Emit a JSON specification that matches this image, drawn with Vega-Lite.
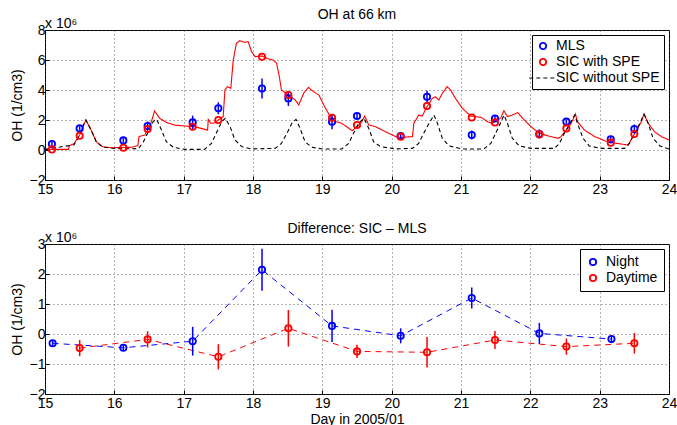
{
  "$schema": "https://vega.github.io/schema/vega-lite/v6.json",
  "padding": {"left": 9, "top": 7, "right": 0, "bottom": 0},
  "spacing": 24,
  "config": {
    "font": "Liberation Sans",
    "view": {"stroke": "#000000", "strokeWidth": 1},
    "axis": {
      "grid": true, "gridDash": [1, 3], "gridColor": "#444444", "gridOpacity": 0.8, "gridWidth": 1,
      "domain": false, "ticks": true, "tickSize": -4, "tickColor": "#000000",
      "labelFontSize": 14, "labelColor": "#000000", "labelFont": "Liberation Sans", "labelPadding": 4,
      "labelOverlap": false, "labelFlush": false,
      "titleFontSize": 14, "titleFontWeight": "normal", "titleColor": "#000000", "titleFont": "Liberation Sans"
    },
    "axisX": {"labelPadding": 6},
    "title": {"fontSize": 14, "fontWeight": "normal", "font": "Liberation Sans", "color": "#000000", "offset": -5},
    "legend": {
      "orient": "top-right", "offset": 5, "fillColor": "#ffffff", "strokeColor": "#000000", "padding": 4,
      "labelFontSize": 14, "labelFont": "Liberation Sans", "labelColor": "#000000", "symbolStrokeWidth": 1.8,
      "symbolSize": 40, "rowPadding": 2, "labelOffset": 6
    }
  },
  "datasets": {
    "sic": [
      {"day": 15.0, "oh": 0.04, "series": "SIC with SPE"},
      {"day": 15.34, "oh": 0.04, "series": "SIC with SPE"},
      {"day": 15.35, "oh": 0.27, "series": "SIC with SPE"},
      {"day": 15.42, "oh": 0.44, "series": "SIC with SPE"},
      {"day": 15.5, "oh": 1.0, "series": "SIC with SPE"},
      {"day": 15.545, "oh": 1.55, "series": "SIC with SPE"},
      {"day": 15.59, "oh": 2.0, "series": "SIC with SPE"},
      {"day": 15.665, "oh": 1.33, "series": "SIC with SPE"},
      {"day": 15.74, "oh": 0.55, "series": "SIC with SPE"},
      {"day": 15.83, "oh": 0.22, "series": "SIC with SPE"},
      {"day": 15.955, "oh": 0.15, "series": "SIC with SPE"},
      {"day": 16.24, "oh": 0.18, "series": "SIC with SPE"},
      {"day": 16.34, "oh": 0.29, "series": "SIC with SPE"},
      {"day": 16.355, "oh": 0.89, "series": "SIC with SPE"},
      {"day": 16.44, "oh": 1.0, "series": "SIC with SPE"},
      {"day": 16.495, "oh": 1.44, "series": "SIC with SPE"},
      {"day": 16.535, "oh": 1.89, "series": "SIC with SPE"},
      {"day": 16.58, "oh": 2.6, "series": "SIC with SPE"},
      {"day": 16.655, "oh": 2.11, "series": "SIC with SPE"},
      {"day": 16.75, "oh": 1.84, "series": "SIC with SPE"},
      {"day": 16.87, "oh": 1.66, "series": "SIC with SPE"},
      {"day": 17.02, "oh": 1.6, "series": "SIC with SPE"},
      {"day": 17.16, "oh": 1.55, "series": "SIC with SPE"},
      {"day": 17.305, "oh": 1.38, "series": "SIC with SPE"},
      {"day": 17.345, "oh": 1.33, "series": "SIC with SPE"},
      {"day": 17.355, "oh": 2.04, "series": "SIC with SPE"},
      {"day": 17.39, "oh": 1.78, "series": "SIC with SPE"},
      {"day": 17.43, "oh": 1.78, "series": "SIC with SPE"},
      {"day": 17.5, "oh": 2.0, "series": "SIC with SPE"},
      {"day": 17.57, "oh": 2.22, "series": "SIC with SPE"},
      {"day": 17.595, "oh": 4.0, "series": "SIC with SPE"},
      {"day": 17.63, "oh": 4.22, "series": "SIC with SPE"},
      {"day": 17.68, "oh": 4.11, "series": "SIC with SPE"},
      {"day": 17.715, "oh": 6.0, "series": "SIC with SPE"},
      {"day": 17.76, "oh": 7.11, "series": "SIC with SPE"},
      {"day": 17.81, "oh": 7.29, "series": "SIC with SPE"},
      {"day": 17.875, "oh": 7.18, "series": "SIC with SPE"},
      {"day": 17.93, "oh": 7.22, "series": "SIC with SPE"},
      {"day": 17.98, "oh": 6.55, "series": "SIC with SPE"},
      {"day": 18.03, "oh": 6.22, "series": "SIC with SPE"},
      {"day": 18.13, "oh": 6.27, "series": "SIC with SPE"},
      {"day": 18.2, "oh": 6.11, "series": "SIC with SPE"},
      {"day": 18.29, "oh": 6.0, "series": "SIC with SPE"},
      {"day": 18.34, "oh": 5.78, "series": "SIC with SPE"},
      {"day": 18.38, "oh": 4.89, "series": "SIC with SPE"},
      {"day": 18.41, "oh": 4.0, "series": "SIC with SPE"},
      {"day": 18.51, "oh": 3.67, "series": "SIC with SPE"},
      {"day": 18.61, "oh": 3.33, "series": "SIC with SPE"},
      {"day": 18.66, "oh": 3.0, "series": "SIC with SPE"},
      {"day": 18.73, "oh": 3.78, "series": "SIC with SPE"},
      {"day": 18.8, "oh": 4.18, "series": "SIC with SPE"},
      {"day": 18.87, "oh": 3.89, "series": "SIC with SPE"},
      {"day": 18.95, "oh": 3.67, "series": "SIC with SPE"},
      {"day": 19.02, "oh": 3.0, "series": "SIC with SPE"},
      {"day": 19.11, "oh": 2.26, "series": "SIC with SPE"},
      {"day": 19.19, "oh": 1.89, "series": "SIC with SPE"},
      {"day": 19.28, "oh": 1.78, "series": "SIC with SPE"},
      {"day": 19.43, "oh": 1.29, "series": "SIC with SPE"},
      {"day": 19.5, "oh": 1.55, "series": "SIC with SPE"},
      {"day": 19.57, "oh": 1.89, "series": "SIC with SPE"},
      {"day": 19.61, "oh": 2.26, "series": "SIC with SPE"},
      {"day": 19.67, "oh": 1.67, "series": "SIC with SPE"},
      {"day": 19.77, "oh": 1.55, "series": "SIC with SPE"},
      {"day": 19.91, "oh": 1.22, "series": "SIC with SPE"},
      {"day": 20.06, "oh": 0.89, "series": "SIC with SPE"},
      {"day": 20.13, "oh": 0.84, "series": "SIC with SPE"},
      {"day": 20.3, "oh": 0.89, "series": "SIC with SPE"},
      {"day": 20.32, "oh": 1.78, "series": "SIC with SPE"},
      {"day": 20.39, "oh": 2.33, "series": "SIC with SPE"},
      {"day": 20.44, "oh": 2.26, "series": "SIC with SPE"},
      {"day": 20.51, "oh": 2.89, "series": "SIC with SPE"},
      {"day": 20.585, "oh": 3.44, "series": "SIC with SPE"},
      {"day": 20.63, "oh": 3.55, "series": "SIC with SPE"},
      {"day": 20.68, "oh": 3.33, "series": "SIC with SPE"},
      {"day": 20.73, "oh": 3.78, "series": "SIC with SPE"},
      {"day": 20.8, "oh": 4.22, "series": "SIC with SPE"},
      {"day": 20.85, "oh": 4.0, "series": "SIC with SPE"},
      {"day": 20.92, "oh": 3.44, "series": "SIC with SPE"},
      {"day": 21.02, "oh": 2.78, "series": "SIC with SPE"},
      {"day": 21.14, "oh": 2.26, "series": "SIC with SPE"},
      {"day": 21.29, "oh": 2.18, "series": "SIC with SPE"},
      {"day": 21.38, "oh": 1.89, "series": "SIC with SPE"},
      {"day": 21.45, "oh": 1.78, "series": "SIC with SPE"},
      {"day": 21.5, "oh": 1.93, "series": "SIC with SPE"},
      {"day": 21.57, "oh": 2.11, "series": "SIC with SPE"},
      {"day": 21.62, "oh": 2.62, "series": "SIC with SPE"},
      {"day": 21.67, "oh": 2.22, "series": "SIC with SPE"},
      {"day": 21.74, "oh": 2.33, "series": "SIC with SPE"},
      {"day": 21.82, "oh": 2.49, "series": "SIC with SPE"},
      {"day": 21.89, "oh": 2.11, "series": "SIC with SPE"},
      {"day": 22.01, "oh": 1.55, "series": "SIC with SPE"},
      {"day": 22.13, "oh": 1.11, "series": "SIC with SPE"},
      {"day": 22.3, "oh": 0.89, "series": "SIC with SPE"},
      {"day": 22.4, "oh": 0.78, "series": "SIC with SPE"},
      {"day": 22.44, "oh": 0.89, "series": "SIC with SPE"},
      {"day": 22.52, "oh": 1.33, "series": "SIC with SPE"},
      {"day": 22.59, "oh": 1.78, "series": "SIC with SPE"},
      {"day": 22.65, "oh": 2.4, "series": "SIC with SPE"},
      {"day": 22.68, "oh": 1.89, "series": "SIC with SPE"},
      {"day": 22.78, "oh": 1.33, "series": "SIC with SPE"},
      {"day": 22.93, "oh": 0.89, "series": "SIC with SPE"},
      {"day": 23.07, "oh": 0.62, "series": "SIC with SPE"},
      {"day": 23.17, "oh": 0.49, "series": "SIC with SPE"},
      {"day": 23.31, "oh": 0.4, "series": "SIC with SPE"},
      {"day": 23.41, "oh": 0.33, "series": "SIC with SPE"},
      {"day": 23.48, "oh": 0.89, "series": "SIC with SPE"},
      {"day": 23.55, "oh": 1.44, "series": "SIC with SPE"},
      {"day": 23.6, "oh": 1.89, "series": "SIC with SPE"},
      {"day": 23.64, "oh": 2.4, "series": "SIC with SPE"},
      {"day": 23.7, "oh": 1.78, "series": "SIC with SPE"},
      {"day": 23.79, "oh": 1.22, "series": "SIC with SPE"},
      {"day": 23.89, "oh": 0.89, "series": "SIC with SPE"},
      {"day": 24.0, "oh": 0.67, "series": "SIC with SPE"},
      {"day": 15.0, "oh": 0.04, "series": "SIC without SPE"},
      {"day": 15.42, "oh": 0.35, "series": "SIC without SPE"},
      {"day": 15.5, "oh": 1.0, "series": "SIC without SPE"},
      {"day": 15.545, "oh": 1.55, "series": "SIC without SPE"},
      {"day": 15.59, "oh": 2.0, "series": "SIC without SPE"},
      {"day": 15.665, "oh": 1.33, "series": "SIC without SPE"},
      {"day": 15.74, "oh": 0.55, "series": "SIC without SPE"},
      {"day": 15.83, "oh": 0.2, "series": "SIC without SPE"},
      {"day": 15.955, "oh": 0.12, "series": "SIC without SPE"},
      {"day": 16.24, "oh": 0.08, "series": "SIC without SPE"},
      {"day": 16.35, "oh": 0.1, "series": "SIC without SPE"},
      {"day": 16.42, "oh": 0.55, "series": "SIC without SPE"},
      {"day": 16.49, "oh": 1.22, "series": "SIC without SPE"},
      {"day": 16.56, "oh": 1.89, "series": "SIC without SPE"},
      {"day": 16.61, "oh": 2.04, "series": "SIC without SPE"},
      {"day": 16.68, "oh": 1.33, "series": "SIC without SPE"},
      {"day": 16.75, "oh": 0.55, "series": "SIC without SPE"},
      {"day": 16.85, "oh": 0.18, "series": "SIC without SPE"},
      {"day": 17.02, "oh": 0.04, "series": "SIC without SPE"},
      {"day": 17.3, "oh": 0.04, "series": "SIC without SPE"},
      {"day": 17.4, "oh": 0.44, "series": "SIC without SPE"},
      {"day": 17.47, "oh": 1.11, "series": "SIC without SPE"},
      {"day": 17.55, "oh": 1.89, "series": "SIC without SPE"},
      {"day": 17.6, "oh": 2.11, "series": "SIC without SPE"},
      {"day": 17.67, "oh": 1.55, "series": "SIC without SPE"},
      {"day": 17.74, "oh": 0.67, "series": "SIC without SPE"},
      {"day": 17.84, "oh": 0.22, "series": "SIC without SPE"},
      {"day": 17.98, "oh": 0.07, "series": "SIC without SPE"},
      {"day": 18.32, "oh": 0.11, "series": "SIC without SPE"},
      {"day": 18.41, "oh": 0.44, "series": "SIC without SPE"},
      {"day": 18.49, "oh": 1.11, "series": "SIC without SPE"},
      {"day": 18.56, "oh": 1.78, "series": "SIC without SPE"},
      {"day": 18.62, "oh": 2.04, "series": "SIC without SPE"},
      {"day": 18.68, "oh": 1.44, "series": "SIC without SPE"},
      {"day": 18.75, "oh": 0.55, "series": "SIC without SPE"},
      {"day": 18.85, "oh": 0.18, "series": "SIC without SPE"},
      {"day": 19.0, "oh": 0.07, "series": "SIC without SPE"},
      {"day": 19.28, "oh": 0.07, "series": "SIC without SPE"},
      {"day": 19.38, "oh": 0.44, "series": "SIC without SPE"},
      {"day": 19.45, "oh": 1.11, "series": "SIC without SPE"},
      {"day": 19.52, "oh": 1.78, "series": "SIC without SPE"},
      {"day": 19.6, "oh": 2.11, "series": "SIC without SPE"},
      {"day": 19.67, "oh": 1.44, "series": "SIC without SPE"},
      {"day": 19.74, "oh": 0.55, "series": "SIC without SPE"},
      {"day": 19.84, "oh": 0.22, "series": "SIC without SPE"},
      {"day": 20.06, "oh": 0.07, "series": "SIC without SPE"},
      {"day": 20.3, "oh": 0.11, "series": "SIC without SPE"},
      {"day": 20.39, "oh": 0.44, "series": "SIC without SPE"},
      {"day": 20.46, "oh": 1.11, "series": "SIC without SPE"},
      {"day": 20.54, "oh": 1.78, "series": "SIC without SPE"},
      {"day": 20.61, "oh": 2.33, "series": "SIC without SPE"},
      {"day": 20.66, "oh": 1.78, "series": "SIC without SPE"},
      {"day": 20.73, "oh": 0.78, "series": "SIC without SPE"},
      {"day": 20.83, "oh": 0.27, "series": "SIC without SPE"},
      {"day": 21.02, "oh": 0.07, "series": "SIC without SPE"},
      {"day": 21.33, "oh": 0.07, "series": "SIC without SPE"},
      {"day": 21.43, "oh": 0.44, "series": "SIC without SPE"},
      {"day": 21.5, "oh": 1.11, "series": "SIC without SPE"},
      {"day": 21.58, "oh": 1.89, "series": "SIC without SPE"},
      {"day": 21.62, "oh": 2.33, "series": "SIC without SPE"},
      {"day": 21.67, "oh": 1.78, "series": "SIC without SPE"},
      {"day": 21.74, "oh": 0.78, "series": "SIC without SPE"},
      {"day": 21.84, "oh": 0.27, "series": "SIC without SPE"},
      {"day": 22.01, "oh": 0.11, "series": "SIC without SPE"},
      {"day": 22.35, "oh": 0.11, "series": "SIC without SPE"},
      {"day": 22.42, "oh": 0.44, "series": "SIC without SPE"},
      {"day": 22.49, "oh": 1.11, "series": "SIC without SPE"},
      {"day": 22.56, "oh": 1.67, "series": "SIC without SPE"},
      {"day": 22.64, "oh": 2.33, "series": "SIC without SPE"},
      {"day": 22.68, "oh": 1.78, "series": "SIC without SPE"},
      {"day": 22.76, "oh": 0.78, "series": "SIC without SPE"},
      {"day": 22.85, "oh": 0.27, "series": "SIC without SPE"},
      {"day": 23.02, "oh": 0.11, "series": "SIC without SPE"},
      {"day": 23.36, "oh": 0.11, "series": "SIC without SPE"},
      {"day": 23.43, "oh": 0.44, "series": "SIC without SPE"},
      {"day": 23.5, "oh": 1.11, "series": "SIC without SPE"},
      {"day": 23.58, "oh": 1.78, "series": "SIC without SPE"},
      {"day": 23.64, "oh": 2.38, "series": "SIC without SPE"},
      {"day": 23.7, "oh": 1.78, "series": "SIC without SPE"},
      {"day": 23.77, "oh": 0.78, "series": "SIC without SPE"},
      {"day": 23.87, "oh": 0.27, "series": "SIC without SPE"},
      {"day": 24.0, "oh": 0.07, "series": "SIC without SPE"}
    ],
    "pts": [
      {"day": 15.1, "oh": 0.4, "err": 0.15, "series": "MLS"},
      {"day": 15.5, "oh": 1.44, "err": 0.15, "series": "MLS"},
      {"day": 16.13, "oh": 0.64, "err": 0.15, "series": "MLS"},
      {"day": 16.48, "oh": 1.6, "err": 0.3, "series": "MLS"},
      {"day": 17.13, "oh": 1.84, "err": 0.45, "series": "MLS"},
      {"day": 17.5, "oh": 2.78, "err": 0.4, "series": "MLS"},
      {"day": 18.13, "oh": 4.1, "err": 0.67, "series": "MLS"},
      {"day": 18.51, "oh": 3.44, "err": 0.5, "series": "MLS"},
      {"day": 19.14, "oh": 1.89, "err": 0.5, "series": "MLS"},
      {"day": 19.5, "oh": 2.27, "err": 0.2, "series": "MLS"},
      {"day": 20.13, "oh": 0.93, "err": 0.25, "series": "MLS"},
      {"day": 20.51, "oh": 3.55, "err": 0.4, "series": "MLS"},
      {"day": 21.155, "oh": 1.0, "err": 0.3, "series": "MLS"},
      {"day": 21.49, "oh": 2.1, "err": 0.2, "series": "MLS"},
      {"day": 22.13, "oh": 1.07, "err": 0.3, "series": "MLS"},
      {"day": 22.52, "oh": 1.89, "err": 0.15, "series": "MLS"},
      {"day": 23.16, "oh": 0.71, "err": 0.15, "series": "MLS"},
      {"day": 23.5, "oh": 1.4, "err": 0.3, "series": "MLS"},
      {"day": 15.1, "oh": 0.04, "err": 0, "series": "SIC with SPE"},
      {"day": 15.5, "oh": 0.95, "err": 0, "series": "SIC with SPE"},
      {"day": 16.13, "oh": 0.15, "err": 0, "series": "SIC with SPE"},
      {"day": 16.48, "oh": 1.4, "err": 0, "series": "SIC with SPE"},
      {"day": 17.13, "oh": 1.55, "err": 0, "series": "SIC with SPE"},
      {"day": 17.5, "oh": 2.0, "err": 0, "series": "SIC with SPE"},
      {"day": 18.13, "oh": 6.22, "err": 0, "series": "SIC with SPE"},
      {"day": 18.51, "oh": 3.67, "err": 0, "series": "SIC with SPE"},
      {"day": 19.14, "oh": 2.15, "err": 0, "series": "SIC with SPE"},
      {"day": 19.5, "oh": 1.67, "err": 0, "series": "SIC with SPE"},
      {"day": 20.13, "oh": 0.89, "err": 0, "series": "SIC with SPE"},
      {"day": 20.51, "oh": 2.93, "err": 0, "series": "SIC with SPE"},
      {"day": 21.155, "oh": 2.17, "err": 0, "series": "SIC with SPE"},
      {"day": 21.49, "oh": 1.84, "err": 0, "series": "SIC with SPE"},
      {"day": 22.13, "oh": 1.04, "err": 0, "series": "SIC with SPE"},
      {"day": 22.52, "oh": 1.44, "err": 0, "series": "SIC with SPE"},
      {"day": 23.16, "oh": 0.49, "err": 0, "series": "SIC with SPE"},
      {"day": 23.5, "oh": 1.07, "err": 0, "series": "SIC with SPE"}
    ],
    "diff": [
      {"day": 15.11, "oh": -0.31, "err": 0.1, "series": "Night"},
      {"day": 16.13, "oh": -0.46, "err": 0.1, "series": "Night"},
      {"day": 17.13, "oh": -0.24, "err": 0.48, "series": "Night"},
      {"day": 18.13, "oh": 2.14, "err": 0.7, "series": "Night"},
      {"day": 19.14, "oh": 0.27, "err": 0.54, "series": "Night"},
      {"day": 20.13, "oh": -0.06, "err": 0.25, "series": "Night"},
      {"day": 21.155, "oh": 1.2, "err": 0.35, "series": "Night"},
      {"day": 22.13, "oh": 0.02, "err": 0.35, "series": "Night"},
      {"day": 23.17, "oh": -0.17, "err": 0.1, "series": "Night"},
      {"day": 15.5, "oh": -0.47, "err": 0.27, "series": "Daytime"},
      {"day": 16.48, "oh": -0.18, "err": 0.27, "series": "Daytime"},
      {"day": 17.5, "oh": -0.76, "err": 0.42, "series": "Daytime"},
      {"day": 18.51, "oh": 0.19, "err": 0.61, "series": "Daytime"},
      {"day": 19.5, "oh": -0.58, "err": 0.22, "series": "Daytime"},
      {"day": 20.51, "oh": -0.61, "err": 0.51, "series": "Daytime"},
      {"day": 21.49, "oh": -0.2, "err": 0.3, "series": "Daytime"},
      {"day": 22.52, "oh": -0.42, "err": 0.27, "series": "Daytime"},
      {"day": 23.5, "oh": -0.31, "err": 0.34, "series": "Daytime"}
    ],
    "note": [{"label": "x 10⁶"}]
  },
  "vconcat": [
    {
      "width": 624,
      "height": 150,
      "title": {"text": "OH at 66 km"},
      "layer": [
        {
          "data": {"name": "sic"},
          "mark": {"type": "line"},
          "encoding": {
            "x": {"field": "day", "type": "quantitative", "title": null, "scale": {"domain": [15, 24], "nice": false},
                  "axis": {"values": [15, 16, 17, 18, 19, 20, 21, 22, 23, 24], "format": "d", "title": null, "labelOverlap": false}},
            "y": {"field": "oh", "type": "quantitative", "title": "OH (1/cm3)", "scale": {"domain": [-2, 8], "nice": false},
                  "axis": {"values": [-2, 0, 2, 4, 6, 8], "format": "d", "title": "OH (1/cm3)", "titlePadding": 5, "labelOverlap": false}},
            "color": {"field": "series", "type": "nominal",
                      "scale": {"domain": ["MLS", "SIC with SPE", "SIC without SPE"], "range": ["#0000ff", "#ff0000", "#000000"]},
                      "legend": {"title": null, "encode": {"symbols": {"update": {
                        "size": {"signal": "datum.value === 'SIC without SPE' ? 750 : 40"},
                        "strokeWidth": {"signal": "datum.value === 'SIC without SPE' ? 1 : 1.8"}}}}}},
            "strokeDash": {"field": "series", "type": "nominal",
                           "scale": {"domain": ["MLS", "SIC with SPE", "SIC without SPE"], "range": [[1, 0], [1, 0], [4, 3]]},
                           "legend": {"title": null}},
            "strokeWidth": {"value": 1.1}
          }
        },
        {
          "data": {"name": "pts"},
          "transform": [{"filter": "datum.series === 'MLS'"}],
          "mark": {"type": "errorbar", "color": "#0000ff", "thickness": 1.5},
          "encoding": {
            "x": {"field": "day", "type": "quantitative", "title": null,
                  "axis": {"values": [15, 16, 17, 18, 19, 20, 21, 22, 23, 24], "format": "d", "title": null, "labelOverlap": false}},
            "y": {"field": "oh", "type": "quantitative", "title": "OH (1/cm3)",
                  "axis": {"values": [-2, 0, 2, 4, 6, 8], "format": "d", "title": "OH (1/cm3)", "titlePadding": 5, "labelOverlap": false}},
            "yError": {"field": "err"}
          }
        },
        {
          "data": {"name": "pts"},
          "mark": {"type": "point", "filled": false, "strokeWidth": 1.8, "size": 40, "opacity": 1},
          "encoding": {
            "x": {"field": "day", "type": "quantitative", "title": null,
                  "axis": {"values": [15, 16, 17, 18, 19, 20, 21, 22, 23, 24], "format": "d", "title": null, "labelOverlap": false}},
            "y": {"field": "oh", "type": "quantitative", "title": "OH (1/cm3)",
                  "axis": {"values": [-2, 0, 2, 4, 6, 8], "format": "d", "title": "OH (1/cm3)", "titlePadding": 5, "labelOverlap": false}},
            "color": {"field": "series", "type": "nominal",
                      "scale": {"domain": ["MLS", "SIC with SPE", "SIC without SPE"], "range": ["#0000ff", "#ff0000", "#000000"]},
                      "legend": {"title": null}},
            "shape": {"field": "series", "type": "nominal",
                      "scale": {"domain": ["MLS", "SIC with SPE", "SIC without SPE"], "range": ["circle", "circle", "stroke"]},
                      "legend": {"title": null}}
          }
        },
        {
          "data": {"name": "note"},
          "mark": {"type": "text", "align": "left", "baseline": "alphabetic", "dy": -2, "fontSize": 14, "color": "#000000"},
          "encoding": {
            "x": {"datum": 15, "type": "quantitative", "title": null,
                  "axis": {"values": [15, 16, 17, 18, 19, 20, 21, 22, 23, 24], "format": "d", "title": null, "labelOverlap": false}},
            "y": {"datum": 8, "type": "quantitative", "title": "OH (1/cm3)",
                  "axis": {"values": [-2, 0, 2, 4, 6, 8], "format": "d", "title": "OH (1/cm3)", "titlePadding": 5, "labelOverlap": false}},
            "text": {"field": "label"}
          }
        }
      ]
    },
    {
      "width": 624,
      "height": 150,
      "title": {"text": "Difference: SIC – MLS"},
      "layer": [
        {
          "data": {"name": "diff"},
          "transform": [{"filter": "datum.series === 'Night'"}],
          "mark": {"type": "line", "color": "#0000ff", "strokeWidth": 1, "strokeDash": [6, 5]},
          "encoding": {
            "x": {"field": "day", "type": "quantitative", "title": "Day in 2005/01", "scale": {"domain": [15, 24], "nice": false},
                  "axis": {"values": [15, 16, 17, 18, 19, 20, 21, 22, 23, 24], "format": "d", "title": "Day in 2005/01", "titlePadding": 2, "labelOverlap": false}},
            "y": {"field": "oh", "type": "quantitative", "title": "OH (1/cm3)", "scale": {"domain": [-2, 3], "nice": false},
                  "axis": {"values": [-2, -1, 0, 1, 2, 3], "format": "d", "title": "OH (1/cm3)", "titlePadding": 5, "labelOverlap": false}}
          }
        },
        {
          "data": {"name": "diff"},
          "transform": [{"filter": "datum.series === 'Daytime'"}],
          "mark": {"type": "line", "color": "#ff0000", "strokeWidth": 1, "strokeDash": [6, 5]},
          "encoding": {
            "x": {"field": "day", "type": "quantitative", "title": "Day in 2005/01",
                  "axis": {"values": [15, 16, 17, 18, 19, 20, 21, 22, 23, 24], "format": "d", "title": "Day in 2005/01", "titlePadding": 2, "labelOverlap": false}},
            "y": {"field": "oh", "type": "quantitative", "title": "OH (1/cm3)",
                  "axis": {"values": [-2, -1, 0, 1, 2, 3], "format": "d", "title": "OH (1/cm3)", "titlePadding": 5, "labelOverlap": false}}
          }
        },
        {
          "data": {"name": "diff"},
          "transform": [{"filter": "datum.series === 'Night'"}],
          "mark": {"type": "errorbar", "color": "#0000ff", "thickness": 1.5},
          "encoding": {
            "x": {"field": "day", "type": "quantitative", "title": "Day in 2005/01",
                  "axis": {"values": [15, 16, 17, 18, 19, 20, 21, 22, 23, 24], "format": "d", "title": "Day in 2005/01", "titlePadding": 2, "labelOverlap": false}},
            "y": {"field": "oh", "type": "quantitative", "title": "OH (1/cm3)",
                  "axis": {"values": [-2, -1, 0, 1, 2, 3], "format": "d", "title": "OH (1/cm3)", "titlePadding": 5, "labelOverlap": false}},
            "yError": {"field": "err"}
          }
        },
        {
          "data": {"name": "diff"},
          "transform": [{"filter": "datum.series === 'Daytime'"}],
          "mark": {"type": "errorbar", "color": "#ff0000", "thickness": 1.5},
          "encoding": {
            "x": {"field": "day", "type": "quantitative", "title": "Day in 2005/01",
                  "axis": {"values": [15, 16, 17, 18, 19, 20, 21, 22, 23, 24], "format": "d", "title": "Day in 2005/01", "titlePadding": 2, "labelOverlap": false}},
            "y": {"field": "oh", "type": "quantitative", "title": "OH (1/cm3)",
                  "axis": {"values": [-2, -1, 0, 1, 2, 3], "format": "d", "title": "OH (1/cm3)", "titlePadding": 5, "labelOverlap": false}},
            "yError": {"field": "err"}
          }
        },
        {
          "data": {"name": "diff"},
          "mark": {"type": "point", "filled": false, "strokeWidth": 1.8, "size": 40, "opacity": 1},
          "encoding": {
            "x": {"field": "day", "type": "quantitative", "title": "Day in 2005/01",
                  "axis": {"values": [15, 16, 17, 18, 19, 20, 21, 22, 23, 24], "format": "d", "title": "Day in 2005/01", "titlePadding": 2, "labelOverlap": false}},
            "y": {"field": "oh", "type": "quantitative", "title": "OH (1/cm3)",
                  "axis": {"values": [-2, -1, 0, 1, 2, 3], "format": "d", "title": "OH (1/cm3)", "titlePadding": 5, "labelOverlap": false}},
            "color": {"field": "series", "type": "nominal",
                      "scale": {"domain": ["Night", "Daytime"], "range": ["#0000ff", "#ff0000"]},
                      "legend": {"title": null, "padding": 6}}
          }
        },
        {
          "data": {"name": "note"},
          "mark": {"type": "text", "align": "left", "baseline": "alphabetic", "dy": -2, "fontSize": 14, "color": "#000000"},
          "encoding": {
            "x": {"datum": 15, "type": "quantitative", "title": "Day in 2005/01",
                  "axis": {"values": [15, 16, 17, 18, 19, 20, 21, 22, 23, 24], "format": "d", "title": "Day in 2005/01", "titlePadding": 2, "labelOverlap": false}},
            "y": {"datum": 3, "type": "quantitative", "title": "OH (1/cm3)",
                  "axis": {"values": [-2, -1, 0, 1, 2, 3], "format": "d", "title": "OH (1/cm3)", "titlePadding": 5, "labelOverlap": false}},
            "text": {"field": "label"}
          }
        }
      ]
    }
  ],
  "resolve": {"scale": {"color": "independent", "shape": "independent", "strokeDash": "independent"}, "legend": {"color": "independent"}}
}
